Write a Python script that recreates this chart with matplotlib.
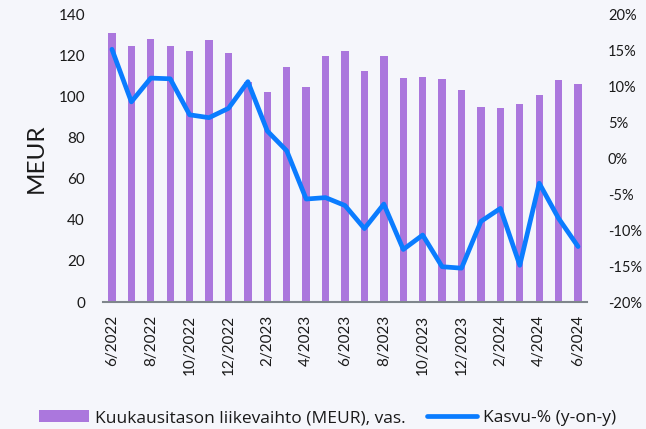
import matplotlib
matplotlib.use("Agg")
import matplotlib.pyplot as plt
from matplotlib.patches import Patch
from matplotlib.lines import Line2D
from matplotlib.ticker import FuncFormatter

plt.rcParams['font.family'] = ['Lato', 'DejaVu Sans']

months = ["6/2022", "7/2022", "8/2022", "9/2022", "10/2022", "11/2022", "12/2022",
          "1/2023", "2/2023", "3/2023", "4/2023", "5/2023", "6/2023", "7/2023",
          "8/2023", "9/2023", "10/2023", "11/2023", "12/2023", "1/2024", "2/2024",
          "3/2024", "4/2024", "5/2024", "6/2024"]
revenue = [130.6, 124.6, 127.9, 124.6, 121.9, 127.2, 121.2, 107.0, 102.3, 114.3,
           104.7, 119.6, 122.2, 112.5, 119.6, 108.9, 109.6, 108.6, 102.9, 95.0,
           94.2, 96.4, 100.8, 108.1, 106.0]
growth = [15.1, 7.8, 11.1, 11.0, 6.0, 5.6, 6.9, 10.6, 3.75, 1.0, -5.7, -5.5, -6.6,
          -9.8, -6.4, -12.7, -10.7, -15.1, -15.3, -8.8, -7.0, -14.9, -3.5, -8.4, -12.3]

bg = "#F5F6FB"
bar_color = "#AB77DD"
line_color = "#0A7CFF"
text_color = "#1a1a1a"

fig = plt.figure(figsize=(6.46, 4.29), dpi=100, facecolor=bg)
ax = fig.add_axes([103/646, 1-302/429, (587-103)/646, (302-14)/429])
ax.set_facecolor(bg)
x = list(range(len(months)))
ax.bar(x, revenue, width=0.38, color=bar_color, zorder=2)
ax.set_xlim(-0.46, len(months) - 0.54)
ax.set_ylim(0, 140)
ax.set_yticks(range(0, 141, 20))
ax.set_xticks(x[::2])
ax.set_xticklabels(months[::2], rotation=90, fontsize=11, color=text_color)
ax.tick_params(axis='both', length=0, colors=text_color)
ax.tick_params(axis='y', labelsize=11, pad=13)
ax.tick_params(axis='x', pad=9)
for s in ['top', 'right', 'left']:
    ax.spines[s].set_visible(False)
ax.spines['bottom'].set_color('#7f868c')
ax.spines['bottom'].set_linewidth(1.5)
ax.set_ylabel("MEUR", fontsize=17.5, color=text_color, labelpad=8)

ax2 = ax.twinx()
ax2.plot(x, growth, color=line_color, linewidth=3.4, solid_capstyle='round', solid_joinstyle='round', zorder=3)
ax2.set_ylim(-20, 20)
ax2.set_yticks(range(-20, 21, 5))
ax2.yaxis.set_major_formatter(FuncFormatter(lambda v, p: f"{int(v)}%"))
ax2.tick_params(axis='y', length=0, labelsize=10.5, colors=text_color, pad=15)
for s in ['top', 'right', 'left', 'bottom']:
    ax2.spines[s].set_visible(False)

handles = [Patch(facecolor=bar_color, edgecolor='none'),
           Line2D([0], [0], color=line_color, linewidth=3.4, solid_capstyle='round')]
labels = ["Kuukausitason liikevaihto (MEUR), vas.", "Kasvu-% (y-on-y)"]
fig.legend(handles, labels, loc='center', bbox_to_anchor=(327.5/646, 1 - 418/429),
           ncol=2, frameon=False, handlelength=2.9, handleheight=0.7,
           handletextpad=0.33, columnspacing=1.2, labelcolor=text_color,
           prop={'family': ['Open Sans', 'DejaVu Sans'], 'size': 12.5})

fig.savefig("out.png", dpi=100, facecolor=bg)
